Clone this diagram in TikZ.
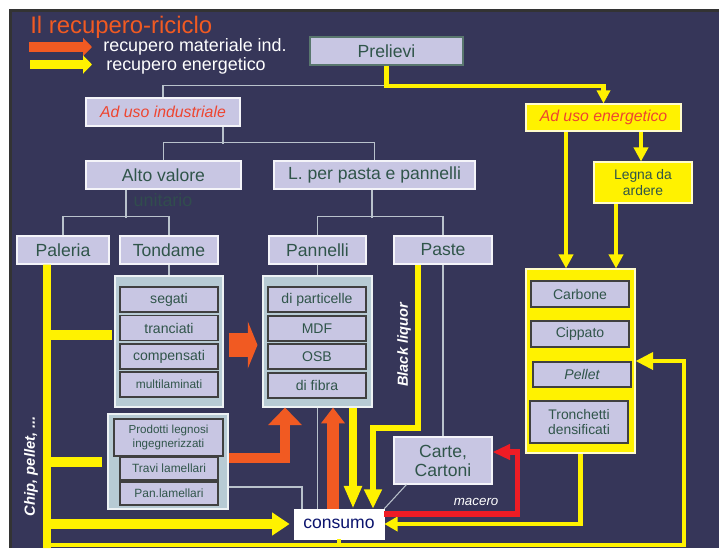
\documentclass[tikz,border=0pt]{standalone}
\usepackage{fontspec}
\setmainfont{Liberation Sans}
\setsansfont{Liberation Sans}
\usepackage{xcolor}
\usepackage{tikz}
\usetikzlibrary{positioning,calc,arrows.meta}

\definecolor{fondo}{HTML}{363659}
\definecolor{lilla}{HTML}{C8C6E3}
\definecolor{grigioblu}{HTML}{B7CBD4}
\definecolor{testo}{HTML}{30554A}
\definecolor{giallo}{HTML}{FFF200}
\definecolor{arancio}{HTML}{F15A22}
\definecolor{rosso}{HTML}{EE1C25}
\definecolor{linea}{HTML}{B9C2CC}
\definecolor{rossotesto}{HTML}{EE4530}

\tikzset{
  box/.style={draw=white!80!lilla, fill=lilla, text=testo, line width=0.6pt, inner sep=0pt,
    minimum height=0.56cm, font=\fontsize{10}{11}\selectfont},
  item/.style={draw=black!75, fill=lilla, text=testo, line width=0.6pt, inner sep=0pt,
    minimum width=1.96cm, minimum height=0.5cm, align=center, font=\fontsize{8}{9}\selectfont},
  group/.style={draw=white!75!grigioblu, fill=grigioblu, line width=0.6pt, inner sep=0pt},
  gbox/.style={draw=white!80!giallo, fill=giallo, line width=0.6pt, inner sep=0pt},
  conn/.style={draw=linea, line width=0.6pt},
  yline/.style={draw=giallo, line width=2.6pt},
  oline/.style={draw=arancio},
  rline/.style={draw=rosso, line width=3pt},
  tip/.style 2 args={-{Triangle[width=#1,length=#2]}},
  lbl/.style={text=white, inner sep=0pt}
}

\begin{document}
\begin{tikzpicture}[x=0.02cm, y=-0.02cm, font=\sffamily]
  \useasboundingbox (0,0) rectangle (719,548);
  % sfondo
  \fill[white] (0,0) rectangle (719,548);
  \fill[black!80] (9,9) rectangle (719,548);
  \fill[fondo] (12,12) rectangle (719,548);

  % titolo e legenda
  \node[anchor=base west, text=arancio, inner sep=0pt, font=\fontsize{13.6}{16}\selectfont] (titolo) at (30,33) {Il recupero-riciclo};
  \coordinate (lo1) at (29,47);
  \coordinate (lo2) at (92,47);
  \coordinate (ly1) at (30,64.5);
  \coordinate (ly2) at (92,64.5);
  \draw[oline, line width=5.7pt, tip={10pt}{5pt}] (lo1) -- (lo2);
  \draw[yline, line width=5.1pt, tip={10pt}{5pt}] (ly1) -- (ly2);
  \node[lbl, anchor=west, font=\fontsize{10.2}{12}\selectfont] (leg1) at (103,47) {recupero materiale ind.};
  \node[lbl, anchor=west, font=\fontsize{10.2}{12}\selectfont] (leg2) at (106,66) {recupero energetico};

  % albero
  \node[box, draw=testo!80!white, minimum width=3.06cm] (prel) at (386.5,51) {Prelievi};
  \node[box, minimum width=3.08cm, text=rossotesto, font=\fontsize{9}{11}\selectfont\itshape] (indu) at (163,112) {Ad uso industriale};
  \node[gbox, minimum width=3.10cm, minimum height=0.54cm, text=rossotesto, font=\fontsize{9}{11}\selectfont\itshape] (ener) at (603.5,117.5) {Ad uso energetico};
  \node[box, minimum width=3.10cm] (alto) at (163.5,175) {Alto valore};
  \node[text=testo!75!fondo, inner sep=0pt, font=\fontsize{10.2}{12}\selectfont] (unit) at (163,200) {unitario};
  \node[box, minimum width=4.02cm] (lpp) at (374.5,175) {L. per pasta e pannelli};
  \node[box, minimum width=1.84cm] (pale) at (63,250) {Paleria};
  \node[box, minimum width=1.96cm] (tond) at (169,250) {Tondame};
  \node[box, minimum width=1.94cm] (pann) at (317.5,250) {Pannelli};
  \node[box, minimum width=1.96cm] (paste) at (443,250) {Paste};
  \node[gbox, minimum width=1.96cm, minimum height=0.82cm, text=testo, align=center, font=\fontsize{7.9}{8.6}\selectfont] (legna) at (643,182.5) {Legna da\\ardere};

  % gruppi
  \node[group, minimum width=2.16cm, minimum height=2.62cm] (tgroup) at (169,341.5) {};
  \node[item] (seg) at (169,299.5) {segati};
  \node[item] (tra) at (169,328) {tranciati};
  \node[item] (com) at (169,356.5) {compensati};
  \node[item, font=\fontsize{6.8}{8}\selectfont] (mul) at (169,384.5) {multilaminati};

  \node[group, minimum width=2.18cm, minimum height=2.62cm] (pgroup) at (317.5,341.5) {};
  \node[item] (par) at (317,299.5) {di particelle};
  \node[item] (mdf) at (317,328.5) {MDF};
  \node[item] (osb) at (317,356.5) {OSB};
  \node[item] (fib) at (317,385.5) {di fibra};

  \node[group, minimum width=2.4cm, minimum height=1.9cm] (prodgroup) at (168,461.5) {};
  \node[item, minimum width=2.18cm, minimum height=0.74cm, font=\fontsize{6.6}{7.5}\selectfont] (prod) at (168.5,437.5) {Prodotti legnosi\\ingegnerizzati};
  \node[item, minimum height=0.46cm, font=\fontsize{6.8}{8}\selectfont] (travi) at (169,468.5) {Travi lamellari};
  \node[item, minimum height=0.46cm, font=\fontsize{6.8}{8}\selectfont] (panlam) at (169,493.5) {Pan.lamellari};

  \node[gbox, minimum width=2.18cm, minimum height=3.68cm] (egroup) at (580.5,361) {};
  \node[item, minimum height=0.52cm] (carb) at (580,294) {Carbone};
  \node[item, minimum height=0.52cm] (cipp) at (580,334) {Cippato};
  \node[item, font=\fontsize{8}{9}\selectfont\itshape] (pell) at (582,374.5) {Pellet};
  \node[item, minimum height=0.84cm, font=\fontsize{7.9}{8.6}\selectfont] (tron) at (579,422) {Tronchetti\\densificati};

  \node[box, minimum width=1.96cm, minimum height=0.94cm, align=center, font=\fontsize{10}{10.8}\selectfont] (carte) at (443,460.5) {Carte,\\Cartoni};
  \node[draw=white, fill=white, text=testo!40!blue!60!black, inner sep=0pt, minimum width=1.8cm, minimum height=0.6cm, font=\fontsize{10}{12}\selectfont] (consumo) at (339,524) {consumo};

  % connessioni grigie
  \draw[conn] (prel.south) -- ++(0,20) -| (indu.north);
  \draw[conn] ([xshift=1.2cm]indu.south) -- ++(0,17);
  \draw[conn] (alto.north) -- ++(0,-18) -| (lpp.north);
  \draw[conn] ([xshift=-0.75cm]alto.south) -- ++(0,28);
  \draw[conn] (pale.north) -- ++(0,-19) -| (tond.north);
  \draw[conn] ([xshift=-0.05cm]lpp.south) -- ++(0,28);
  \draw[conn] (pann.north) -- ++(0,-19) -| (paste.north);
  \draw[conn] (tond.south) -- (tgroup.north);
  \draw[conn] (pann.south) -- (pgroup.north);
  \draw[conn] (paste.south) -- (carte.north);
  \draw[conn] (pgroup.south) -- (pgroup.south |- consumo.north);
  \draw[conn] ([yshift=-0.51cm]prodgroup.east) -| ([xshift=-0.74cm]consumo.north);
  \draw[conn] ([xshift=0.26cm]carte.south west) -- (consumo.north east);

  % recupero energetico
  \draw[yline, line width=2.3pt, tip={7.5pt}{7.5pt}] (prel.south) -- ++(0,20) -| (ener.north);
  \coordinate (e1) at ([xshift=-0.75cm]ener.south);
  \coordinate (e2) at ([xshift=0.75cm]ener.south);
  \coordinate (l1) at ([xshift=-0.54cm]legna.south);
  \draw[yline, tip={8pt}{8pt}] (e1) -- (e1 |- egroup.north);
  \draw[yline, tip={8pt}{8pt}] (e2) -- (e2 |- legna.north);
  \draw[yline, tip={8pt}{8pt}] (l1) -- (l1 |- egroup.north);

  \coordinate (p1) at ([xshift=-0.5cm]paste.south);
  \coordinate (c1) at ([xshift=0.68cm]consumo.north);
  \draw[yline, line width=3.4pt, tip={9.6pt}{11pt}] (p1) -- ++(0,163) -| (c1);
  \coordinate (g1) at ([xshift=0.71cm]pgroup.south);
  \draw[yline, line width=4pt, tip={9.6pt}{13pt}] (g1) -- (g1 |- consumo.north);

  \coordinate (s0) at ([xshift=-0.32cm]pale.south);
  \coordinate (s1) at (47,548);
  \coordinate (b1) at (44,545);
  \coordinate (b2) at (684,545);
  \coordinate (r1) at ([yshift=0.13cm]tgroup.west);
  \draw[yline, line width=2.3pt, tip={9.6pt}{10pt}] (b1) -- (b2) |- (egroup.east);
  \draw[yline, line width=2.3pt] (consumo.south) -- (consumo.south |- b2);
  \draw[yline, line width=4.5pt] (s0) -- (s1);
  \draw[yline, line width=6pt] (r1 -| s0) -- ([xshift=-0.04cm]r1);
  \draw[yline, line width=5.7pt] (prodgroup.west -| s0) -- ([xshift=-0.1cm]prodgroup.west);
  \draw[yline, line width=6pt, tip={12.5pt}{10pt}] (consumo.west -| s0) -- ([xshift=-0.08cm]consumo.west);
  \draw[yline, line width=2.3pt, tip={8pt}{7.5pt}] (egroup.south) |- (consumo.east);

  % recupero materiale
  \draw[oline, line width=13.6pt, tip={26.6pt}{5.5pt}] ([xshift=0.1cm,yshift=-0.07cm]tgroup.east) -- ([xshift=-0.1cm,yshift=-0.07cm]pgroup.west);
  \draw[oline, line width=6.2pt, tip={18.7pt}{10pt}] ([yshift=0.07cm]prodgroup.east) -| ([xshift=-0.65cm]pgroup.south);
  \coordinate (c2) at ([xshift=-0.12cm]consumo.north);
  \draw[oline, line width=6.8pt, tip={13pt}{9pt}] (c2) -- (c2 |- pgroup.south);
  \draw[rline, tip={8.5pt}{10pt}] ([yshift=0.2cm]consumo.east) -- node[pos=0.69, above=3pt, lbl, font=\fontsize{7.6}{9}\selectfont\itshape] (mac) {macero} ++(133,0) |- ([yshift=0.17cm]carte.east);

  % scritte verticali
  \node[lbl, rotate=90, font=\fontsize{8.3}{10}\selectfont\bfseries\itshape] (black) at (404,345) {Black liquor};
  \node[lbl, rotate=90, font=\fontsize{8.4}{10}\selectfont\bfseries\itshape] (chip) at (31,466) {Chip, pellet, ...};
\end{tikzpicture}
\end{document}
